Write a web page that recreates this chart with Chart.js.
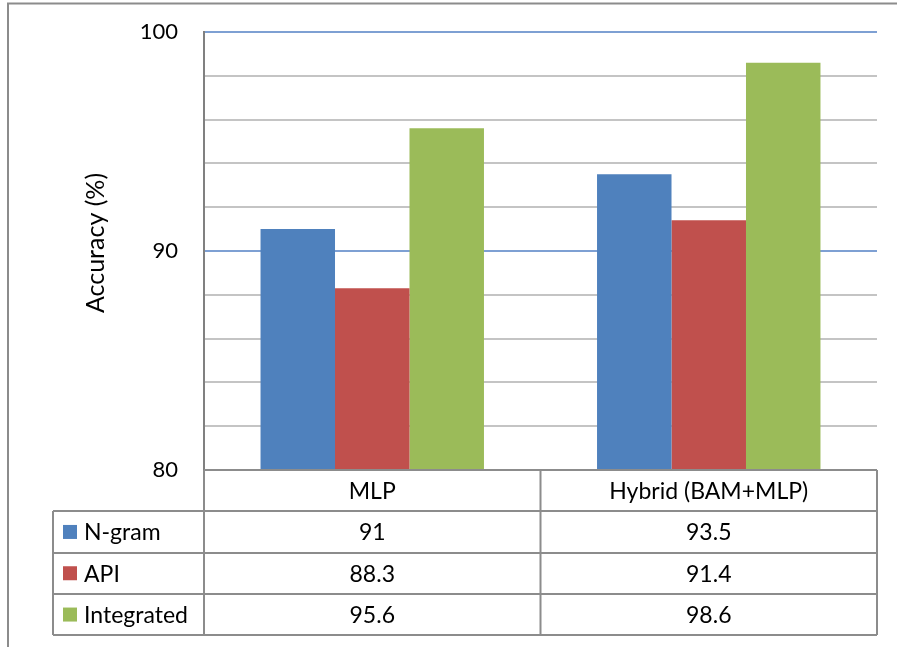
<!DOCTYPE html>
<html>
<head>
<meta charset="utf-8">
<script src="https://cdn.jsdelivr.net/npm/chart.js@4/dist/chart.umd.min.js"></script>
<style>
  html, body { margin: 0; padding: 0; background: #fff; }
  #wrap { width: 897px; height: 647px; position: relative; }
</style>
</head>
<body>
<div id="wrap"><canvas id="accChart"></canvas></div>
<script>
// values
var categories = ['MLP', 'Hybrid (BAM+MLP)'];
var seriesNames = ['N-gram', 'API', 'Integrated'];
var ngram = [91, 93.5];
var api = [88.3, 91.4];
var integrated = [95.6, 98.6];
var tableText = [['91', '93.5'], ['88.3', '91.4'], ['95.6', '98.6']];
var yTicks = [80, 90, 100];

var colors = ['#4F81BD', '#C0504D', '#9BBB59'];
var FONT = 'Lato, "Open Sans", sans-serif';
var lineGray = '#8c8c8c';

// draws the outer frame, the axis title and the data table under the plot
var tablePlugin = {
  id: 'dataTable',
  afterDraw: function (chart) {
    var ctx = chart.ctx;
    var area = chart.chartArea;
    var x = chart.scales.x;
    var mid = (x.getPixelForValue(0) + x.getPixelForValue(1)) / 2;
    var rowH = 41.3;
    var top = area.bottom;
    var legendLeft = 53;

    ctx.save();
    ctx.strokeStyle = lineGray;
    ctx.lineWidth = 2;

    // outer frame (left and top)
    ctx.beginPath();
    ctx.moveTo(8, 647); ctx.lineTo(8, 3.5); ctx.lineTo(897, 3.5);
    ctx.stroke();

    ctx.beginPath();
    // header top
    ctx.moveTo(area.left, top); ctx.lineTo(area.right, top);
    for (var r = 1; r <= 4; r++) {
      var yy = Math.round(top + rowH * r);
      ctx.moveTo(legendLeft, yy); ctx.lineTo(area.right, yy);
    }
    var bottom = Math.round(top + rowH * 4);
    [area.left, mid, area.right].forEach(function (vx) {
      ctx.moveTo(vx, top); ctx.lineTo(vx, bottom);
    });
    ctx.moveTo(legendLeft, Math.round(top + rowH)); ctx.lineTo(legendLeft, bottom);
    ctx.stroke();

    ctx.fillStyle = '#000';
    ctx.font = '23px ' + FONT;
    ctx.textBaseline = 'middle';
    ctx.textAlign = 'center';
    var colMid = [(area.left + mid) / 2, (mid + area.right) / 2];
    categories.forEach(function (c, i) {
      ctx.fillText(c, colMid[i], top + rowH / 2 + 1);
    });
    for (var s = 0; s < seriesNames.length; s++) {
      var cy = top + rowH * (s + 1) + rowH / 2 + 1;
      ctx.textAlign = 'center';
      ctx.fillStyle = '#000';
      tableText[s].forEach(function (t, i) {
        ctx.fillText(t, colMid[i], cy);
      });
      ctx.fillStyle = colors[s];
      ctx.fillRect(63, cy - 8, 14, 14);
      ctx.fillStyle = '#000';
      ctx.textAlign = 'left';
      ctx.fillText(seriesNames[s], 84, cy);
    }

    // y axis title
    ctx.font = '25px ' + FONT;
    ctx.translate(96, 243);
    ctx.rotate(-Math.PI / 2);
    ctx.textAlign = 'center';
    ctx.fillText('Accuracy (%)', 0, 0);
    ctx.restore();
  }
};

var chart = new Chart(document.getElementById('accChart').getContext('2d'), {
  type: 'bar',
  data: {
    labels: categories,
    datasets: [
      { label: seriesNames[0], data: ngram, backgroundColor: colors[0] },
      { label: seriesNames[1], data: api, backgroundColor: colors[1] },
      { label: seriesNames[2], data: integrated, backgroundColor: colors[2] }
    ]
  },
  options: {
    responsive: true, maintainAspectRatio: false, animation: false,
    categoryPercentage: 0.664, barPercentage: 1,
    layout: { padding: { left: 0, top: 32, right: 20, bottom: 177 } },
    plugins: { legend: { display: false }, tooltip: { enabled: false } },
    scales: {
      x: { display: false },
      y: {
        min: 80, max: 100,
        afterFit: function (scale) {
          scale.width = 204;
          scale.paddingTop = 0;
          scale.paddingBottom = 0;
        },
        afterBuildTicks: function (scale) {
          var t = [];
          for (var v = 80; v <= 100; v += 2) t.push({ value: v });
          scale.ticks = t;
        },
        ticks: {
          padding: 26, color: '#000', font: { family: FONT, size: 22 },
          callback: function (v) { return yTicks.indexOf(v) >= 0 ? String(v) : ''; }
        },
        grid: {
          drawTicks: false, lineWidth: 2,
          color: function (c) { return c.tick && c.tick.value % 10 === 0 ? '#7ea0d3' : '#c4c4c4'; }
        },
        border: { color: '#808080', width: 2 }
      }
    }
  },
  plugins: [tablePlugin]
});
</script>
</body>
</html>
